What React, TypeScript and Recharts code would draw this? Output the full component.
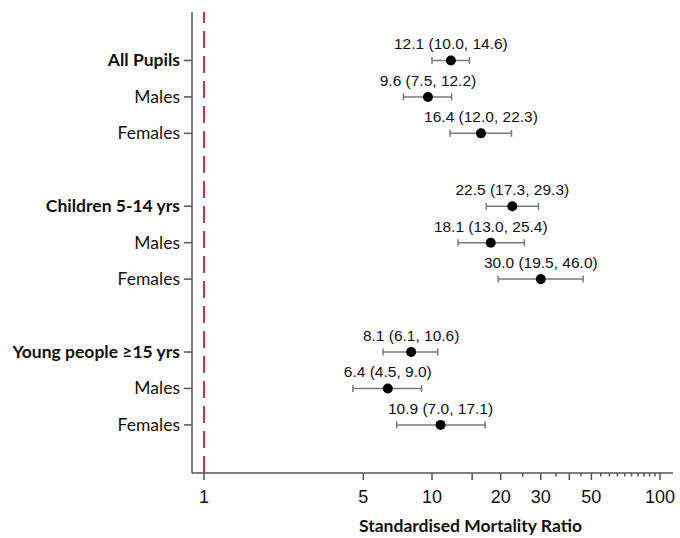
import React from 'react'
import {
  ScatterChart,
  Scatter,
  XAxis,
  YAxis,
  ErrorBar,
  ReferenceLine,
  LabelList,
} from 'recharts'

// rows (top to bottom), gaps between groups at rows 3 and 7
const rowLabels = [
  'All Pupils', 'Males', 'Females',
  'Children 5-14 yrs', 'Males', 'Females',
  'Young people \u226515 yrs', 'Males', 'Females',
]
const rowPos = [0, 1, 2, 4, 5, 6, 8, 9, 10]
const boldRows = [0, 4, 8]

const smr = [12.1, 9.6, 16.4, 22.5, 18.1, 30.0, 8.1, 6.4, 10.9]
const lower = [10.0, 7.5, 12.0, 17.3, 13.0, 19.5, 6.1, 4.5, 7.0]
const upper = [14.6, 12.2, 22.3, 29.3, 25.4, 46.0, 10.6, 9.0, 17.1]

const xTicks = [1, 5, 10, 15, 20, 25, 30, 35, 40, 45, 50, 55, 60, 65, 70, 75, 80, 85, 90, 95, 100]
const xLabelled = [1, 5, 10, 20, 30, 50, 100]
const xMajor = [1, 5, 10, 15, 20, 30, 40, 50, 100]

const data = smr.map((v, i) => ({
  row: rowPos[i],
  smr: v,
  ci: [+(v - lower[i]).toFixed(2), +(upper[i] - v).toFixed(2)],
  text: `${v.toFixed(1)} (${lower[i].toFixed(1)}, ${upper[i].toFixed(1)})`,
}))

const AXIS = '#555555'
const LABEL_FONT = 'Lato, "Open Sans", sans-serif'
const NUM_FONT = '"Liberation Sans", Arial, sans-serif'

function YTick(props: any) {
  const { x, y, payload } = props
  const idx = rowPos.indexOf(payload.value)
  if (idx < 0) return null
  return (
    <text
      x={x}
      y={y}
      dy={6}
      textAnchor="end"
      fontFamily={LABEL_FONT}
      fontSize={17.5}
      fontWeight={boldRows.includes(payload.value) ? 700 : 400}
      fill="#111"
    >
      {rowLabels[idx]}
    </text>
  )
}

function XTick(props: any) {
  const { x, y, payload } = props
  const v = payload.value
  const len = xMajor.includes(v) ? 7 : 3.5
  return (
    <g>
      <line x1={x} y1={y} x2={x} y2={y + len} stroke={AXIS} strokeWidth={1.5} />
      {xLabelled.includes(v) && (
        <text
          x={x}
          y={y + 30}
          textAnchor="middle"
          fontFamily={NUM_FONT}
          fontSize={18}
          fill="#111"
        >
          {v}
        </text>
      )}
    </g>
  )
}

export default function App() {
  return (
    <div style={{ position: 'absolute', left: 0, top: 0, background: '#fff' }}>
      <ScatterChart
        width={680}
        height={538}
        margin={{ top: 12, right: 7, bottom: 0, left: 0 }}
      >
        <XAxis
          type="number"
          dataKey="smr"
          scale="log"
          domain={[0.886, 114]}
          ticks={xTicks}
          interval={0}
          allowDataOverflow
          tickLine={false}
          tickSize={0}
          tickMargin={0}
          tick={<XTick />}
          axisLine={{ stroke: AXIS, strokeWidth: 1.5 }}
          height={65}
          label={{
            content: (p: any) => {
              const vb = p.viewBox
              return (
                <text
                  x={vb.x + vb.width / 2 + 38}
                  y={vb.y + 59}
                  textAnchor="middle"
                  fontFamily={LABEL_FONT}
                  fontSize={17.5}
                  fontWeight={700}
                  fill="#111"
                >
                  Standardised Mortality Ratio
                </text>
              )
            },
          }}
        />
        <YAxis
          type="number"
          dataKey="row"
          domain={[-1.33, 11.32]}
          reversed
          ticks={rowPos}
          interval={0}
          allowDataOverflow
          width={192}
          tickSize={8}
          tickMargin={4}
          tick={<YTick />}
          tickLine={{ stroke: AXIS, strokeWidth: 1.5 }}
          axisLine={{ stroke: AXIS, strokeWidth: 1.5 }}
        />
        <ReferenceLine
          x={1}
          stroke="#c8325a"
          strokeWidth={2}
          strokeDasharray="17 8"
        />
        <Scatter
          data={data}
          isAnimationActive={false}
          shape={(p: any) => <circle cx={p.cx} cy={p.cy} r={5} fill="#000" />}
        >
          <ErrorBar
            dataKey="ci"
            direction="x"
            width={3.5}
            stroke="#7a7a7a"
            strokeWidth={1.5}
          />
          <LabelList
            dataKey="text"
            content={(p: any) => (
              <text
                x={p.x + p.width / 2}
                y={p.y + p.height / 2 - 11}
                textAnchor="middle"
                fontFamily={NUM_FONT}
                fontSize={15.5}
                fill="#111"
              >
                {p.value}
              </text>
            )}
          />
        </Scatter>
      </ScatterChart>
    </div>
  )
}
